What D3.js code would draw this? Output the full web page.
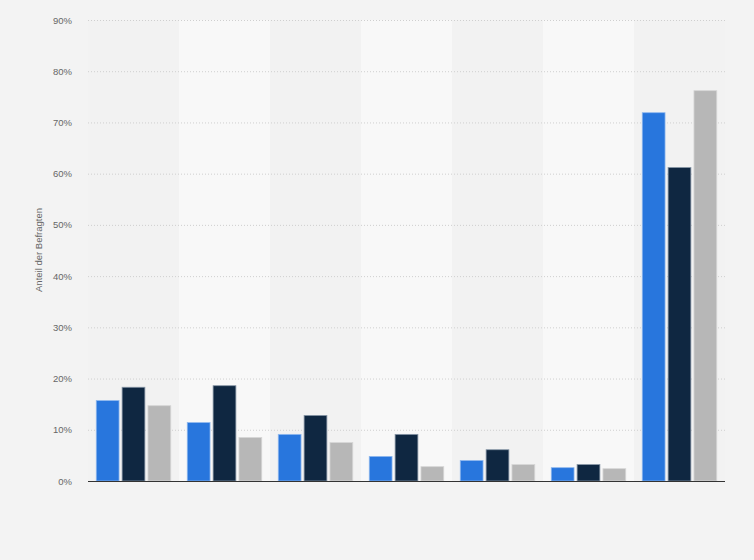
<!DOCTYPE html>
<html>
<head>
<meta charset="utf-8">
<script src="https://cdn.jsdelivr.net/npm/d3@7"></script>
<style>
  body { margin: 0; background: #f4f4f4; }
  svg { display: block; font-family: "Liberation Sans", Arial, sans-serif; }
</style>
</head>
<body>
<div id="chart"></div>
<script>
// values, in percent
var categories = ["1", "2", "3", "4", "5", "6", "7"];
var seriesNames = ["Serie 1", "Serie 2", "Serie 3"];
var serie1 = [15.8, 11.5, 9.2, 4.9, 4.1, 2.7, 72.0];
var serie2 = [18.4, 18.7, 12.9, 9.2, 6.2, 3.3, 61.3];
var serie3 = [14.8, 8.6, 7.6, 2.9, 3.3, 2.5, 76.3];
var yTicks = [0, 10, 20, 30, 40, 50, 60, 70, 80, 90];
var colors = ["#2876dd", "#0f2741", "#b7b7b7"];
var strokes = ["#8fb8ee", "#8796a6", "#d6d6d6"];

var width = 754, height = 560;
var margin = { top: 20, right: 29, bottom: 79, left: 88 };

var svg = d3.select("#chart").append("svg")
	.attr("width", width)
	.attr("height", height);

svg.append("rect").attr("width", width).attr("height", height).attr("fill", "#f3f3f3");

var x = d3.scaleBand()
	.domain(categories)
	.range([margin.left, width - margin.right]);

var x1 = d3.scaleBand()
	.domain(seriesNames)
	.range([0, x.bandwidth()])
	.paddingInner(0.08)
	.paddingOuter(0.3);

var y = d3.scaleLinear()
	.domain([0, 90])
	.range([height - margin.bottom, margin.top]);

// alternating column bands
svg.append("g").selectAll("rect")
	.data(categories)
	.join("rect")
	.attr("x", function (d) { return x(d); })
	.attr("y", margin.top)
	.attr("width", x.bandwidth())
	.attr("height", height - margin.bottom - margin.top)
	.attr("fill", function (d, i) { return i % 2 ? "#f8f8f8" : "#f2f2f2"; });

// grid
var yAxis = d3.axisLeft(y)
	.tickValues(yTicks)
	.tickSize(-(width - margin.left - margin.right))
	.tickPadding(16)
	.tickFormat(function (d) { return d + "%"; });

var gy = svg.append("g")
	.attr("transform", "translate(" + margin.left + ",0)")
	.call(yAxis);
gy.select(".domain").remove();
gy.selectAll(".tick line")
	.attr("stroke", "#cfcfcf")
	.attr("stroke-dasharray", "1,2");
gy.selectAll(".tick text")
	.attr("fill", "#666")
	.attr("font-size", "9.5px");

// bars
var rows = categories.map(function (c, i) {
	return [serie1[i], serie2[i], serie3[i]];
});

var groups = svg.append("g").selectAll("g")
	.data(rows)
	.join("g")
	.attr("transform", function (d, i) { return "translate(" + x(categories[i]) + ",0)"; });

groups.selectAll("rect")
	.data(function (d) { return d; })
	.join("rect")
	.attr("x", function (d, j) { return x1(seriesNames[j]) + 0.5; })
	.attr("y", function (d) { return y(d) + 0.5; })
	.attr("width", x1.bandwidth() - 1)
	.attr("height", function (d) { return y(0) - y(d) - 0.5; })
	.attr("fill", function (d, j) { return colors[j]; })
	.attr("stroke", function (d, j) { return strokes[j]; })
	.attr("stroke-width", 0.8);

// baseline
svg.append("line")
	.attr("x1", margin.left)
	.attr("x2", width - margin.right)
	.attr("y1", y(0) + 0.5)
	.attr("y2", y(0) + 0.5)
	.attr("stroke", "#333")
	.attr("stroke-width", 1.2);

// axis title
svg.append("text")
	.attr("transform", "translate(42,250) rotate(-90)")
	.attr("text-anchor", "middle")
	.attr("fill", "#666")
	.attr("font-size", "9.5px")
	.text("Anteil der Befragten");
</script>
</body>
</html>
